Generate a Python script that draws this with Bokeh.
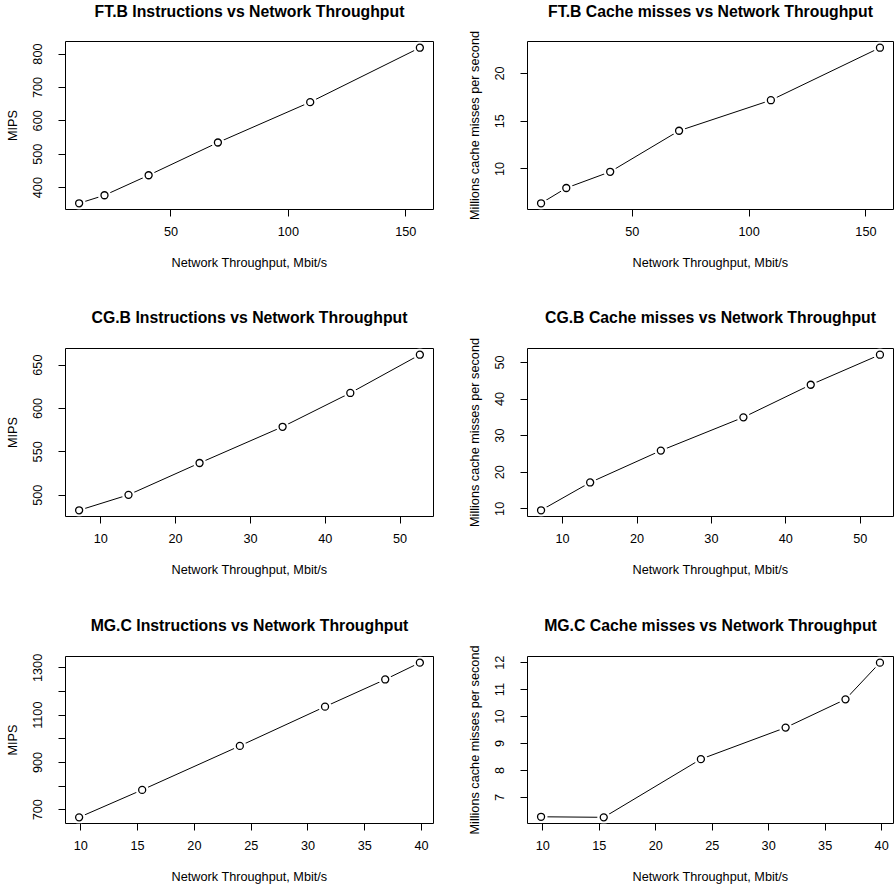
from bokeh.plotting import figure
from bokeh.models import Range1d, FixedTicker, Title
from bokeh.layouts import column, row
from bokeh.embed import file_html
from bokeh.resources import INLINE

# ---- data ----
ft_x = [10.9, 21.7, 40.5, 70.0, 109.3, 156.0]
ft_mips = [353, 377, 437, 535, 656, 819]
ft_cache = [6.4, 8.0, 9.7, 14.0, 17.2, 22.7]

cg_x = [7.1, 13.7, 23.2, 34.3, 43.35, 52.65]
cg_mips = [482.6, 500.4, 537.1, 578.9, 617.9, 662.0]
cg_cache = [9.6, 17.2, 25.9, 35.0, 43.9, 52.1]

mg_x = [9.85, 15.4, 24.0, 31.5, 36.8, 39.85]
mg_mips = [668, 784, 970, 1136, 1251, 1322]
mg_cache = [6.28, 6.26, 8.42, 9.59, 10.64, 12.0]

# ticks and tick labels
ft_xticks = [50, 100, 150]
ft_mips_yticks = [400, 500, 600, 700, 800]
ft_cache_yticks = [10, 15, 20]
cg_xticks = [10, 20, 30, 40, 50]
cg_mips_yticks = [500, 550, 600, 650]
cg_cache_yticks = [10, 20, 30, 40, 50]
mg_xticks = [10, 15, 20, 25, 30, 35, 40]
mg_mips_yticks = [700, 800, 900, 1000, 1100, 1200, 1300]
mg_mips_ylabels = ["700", "", "900", "", "1100", "", "1300"]
mg_cache_yticks = [7, 8, 9, 10, 11, 12]

titles = [
    "FT.B Instructions vs Network Throughput",
    "FT.B Cache misses vs Network Throughput",
    "CG.B Instructions vs Network Throughput",
    "CG.B Cache misses vs Network Throughput",
    "MG.C Instructions vs Network Throughput",
    "MG.C Cache misses vs Network Throughput",
]
xlabel = "Network Throughput, Mbit/s"
ylabel_mips = "MIPS"
ylabel_cache = "Millions cache misses per second"

FONT = "Liberation Sans"
FS = "12.7px"


def padded(vals):
    lo, hi = min(vals), max(vals)
    d = (hi - lo) * 0.04
    return Range1d(lo - d, hi + d)


def panel(title, xs, ys, ylabel, xticks, yticks, ylabels, w, h, bl, br, bt, bb, gap):
    p = figure(width=w, height=h, output_backend="svg", toolbar_location=None,
               title_location=None,
               min_border_left=bl, min_border_right=br,
               min_border_top=bt, min_border_bottom=bb,
               x_range=padded(xs), y_range=padded(ys))
    p.xgrid.visible = False
    p.ygrid.visible = False
    p.outline_line_color = "black"
    p.outline_line_width = 1
    p.background_fill_color = "white"
    p.border_fill_color = "white"

    # spacer between frame and title, then the title itself
    p.add_layout(Title(text=" ", text_font_size="1px", standoff=gap), "above")
    p.add_layout(Title(text=title, standoff=0, align="center",
                       text_font=FONT, text_font_style="bold",
                       text_font_size="15.8px", text_color="black"), "above")

    p.xaxis.ticker = FixedTicker(ticks=xticks)
    p.yaxis.ticker = FixedTicker(ticks=yticks)
    if ylabels is not None:
        p.yaxis.major_label_overrides = {t: l for t, l in zip(yticks, ylabels)}
    for ax in (p.xaxis[0], p.yaxis[0]):
        ax.axis_line_color = None
        ax.major_tick_out = 7
        ax.major_tick_in = 0
        ax.minor_tick_line_color = None
        ax.major_tick_line_color = "black"
        ax.major_label_text_font = FONT
        ax.major_label_text_font_size = FS
        ax.major_label_text_color = "black"
        ax.axis_label_text_font = FONT
        ax.axis_label_text_font_size = FS
        ax.axis_label_text_font_style = "normal"
        ax.axis_label_text_color = "black"
    p.xaxis.axis_label = xlabel
    p.yaxis.axis_label = ylabel
    p.xaxis.major_label_standoff = 10
    p.xaxis.axis_label_standoff = 17
    p.yaxis.major_label_standoff = 16
    p.yaxis.axis_label_standoff = 11
    p.yaxis.major_label_orientation = "vertical"

    p.line(xs, ys, line_color="black", line_width=1)
    p.scatter(xs, ys, size=13, fill_color="white", line_color=None)
    p.scatter(xs, ys, size=7, fill_color="white", line_color="black", line_width=1.3)
    return p


# column widths / borders, row heights / borders
cols_cfg = [dict(w=448, bl=65, br=15), dict(w=447, bl=79, br=2)]
rows_cfg = [
    dict(h=296, bt=41, bb=87, gap=19),
    dict(h=296, bt=52, bb=76, gap=20),
    dict(h=295, bt=64, bb=64, gap=20),
]

data = [
    (ft_x, ft_mips, ylabel_mips, ft_xticks, ft_mips_yticks, None),
    (ft_x, ft_cache, ylabel_cache, ft_xticks, ft_cache_yticks, None),
    (cg_x, cg_mips, ylabel_mips, cg_xticks, cg_mips_yticks, None),
    (cg_x, cg_cache, ylabel_cache, cg_xticks, cg_cache_yticks, None),
    (mg_x, mg_mips, ylabel_mips, mg_xticks, mg_mips_yticks, mg_mips_ylabels),
    (mg_x, mg_cache, ylabel_cache, mg_xticks, mg_cache_yticks, None),
]

rows = []
for r in range(3):
    rc = rows_cfg[r]
    figs = []
    for c in range(2):
        cc = cols_cfg[c]
        i = r * 2 + c
        xs, ys, yl, xt, yt, ylab = data[i]
        figs.append(panel(titles[i], xs, ys, yl, xt, yt, ylab, cc["w"], rc["h"],
                          cc["bl"], cc["br"], rc["bt"], rc["bb"], rc["gap"]))
    rows.append(row(*figs))

layout = column(*rows)
open("out.html", "w").write(file_html(layout, INLINE))
